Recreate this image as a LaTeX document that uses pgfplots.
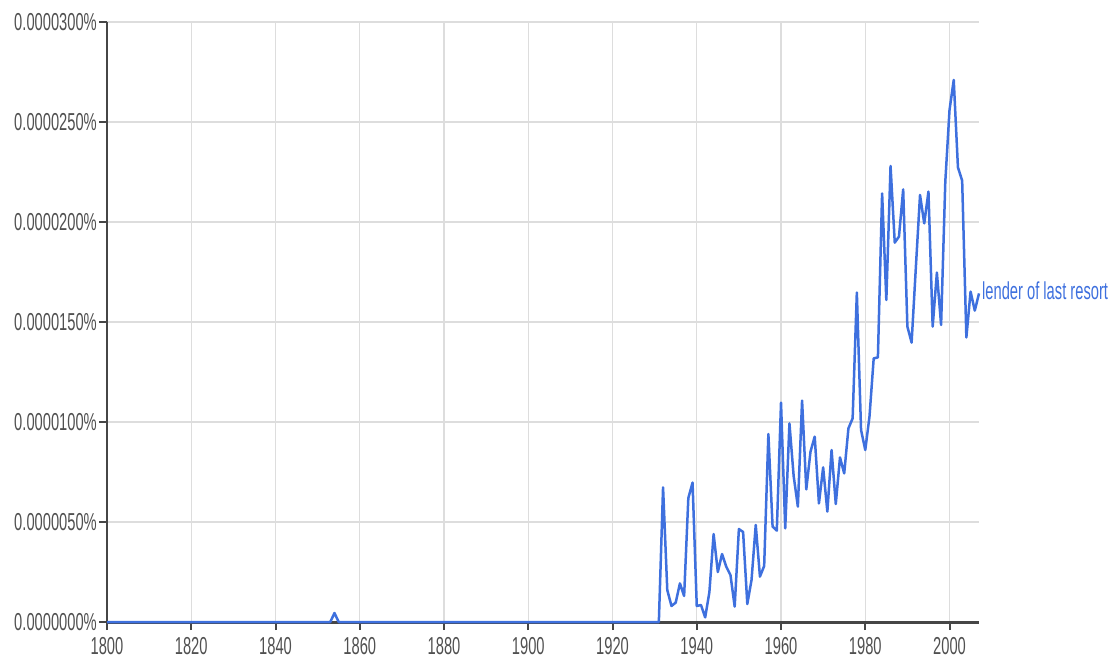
\documentclass[border=0pt]{standalone}
\usepackage{pgfplots}
\pgfplotsset{compat=1.18}
\usepackage{fontspec}
\setmainfont{Liberation Sans}[FakeStretch=0.6]
\definecolor{lineblue}{RGB}{62,112,222}
\definecolor{tickgray}{RGB}{80,80,80}
\definecolor{axisgray}{RGB}{70,70,70}
\definecolor{gridgray}{RGB}{221,221,221}
\begin{document}
\begin{tikzpicture}
\begin{axis}[
  set layers,
  scale only axis,
  width=872pt, height=600pt,
  at={(0pt,0pt)}, anchor=south west,
  xmin=1800, xmax=2007, ymin=0, ymax=30,
  axis x line*=bottom, axis y line*=left,
  x axis line style={line width=3pt, color=axisgray},
  y axis line style={line width=1.6pt, color=axisgray},
  xtick={1800,1820,1840,1860,1880,1900,1920,1940,1960,1980,2000},
  xticklabels={1800,1820,1840,1860,1880,1900,1920,1940,1960,1980,2000},
  ytick={0,5,10,15,20,25,30},
  yticklabels={0.0000000\%,0.0000050\%,0.0000100\%,0.0000150\%,0.0000200\%,0.0000250\%,0.0000300\%},
  tick align=outside,
  major tick length=8pt,
  xtick style={line width=2pt, color=axisgray},
  ytick style={line width=2pt, color=axisgray},
  minor tick num=0,
  xmajorgrids, ymajorgrids,
  x grid style={line width=1.2pt, color=gridgray},
  y grid style={line width=2pt, color=gridgray},
  tick label style={font=\fontsize{24.5}{28}\selectfont, text=tickgray},
  xticklabel style={inner sep=2pt, yshift=-5pt},
  yticklabel style={inner sep=2pt},
  clip=false,
]
\addplot[lineblue, line width=2.5pt, line join=round] coordinates {
(1800,0)(1853,0)(1854,0.45)(1855,0)(1931,0)
(1932,6.73)(1933,1.6)(1934,0.8)(1935,0.97)(1936,1.93)(1937,1.3)(1938,6.2)(1939,6.97)(1940,0.8)
(1941,0.85)(1942,0.23)(1943,1.5)(1944,4.4)(1945,2.5)(1946,3.4)(1947,2.77)(1948,2.35)(1949,0.77)(1950,4.65)
(1951,4.5)(1952,0.9)(1953,2.1)(1954,4.85)(1955,2.27)(1956,2.8)(1957,9.4)(1958,4.77)(1959,4.57)(1960,10.97)
(1961,4.68)(1962,9.93)(1963,7.3)(1964,5.77)(1965,11.07)(1966,6.63)(1967,8.52)(1968,9.27)(1969,5.93)(1970,7.73)
(1971,5.52)(1972,8.6)(1973,5.9)(1974,8.23)(1975,7.43)(1976,9.68)(1977,10.18)(1978,16.47)(1979,9.6)(1980,8.6)
(1981,10.27)(1982,13.18)(1983,13.23)(1984,21.43)(1985,16.1)(1986,22.8)(1987,18.97)(1988,19.27)(1989,21.63)(1990,14.77)
(1991,13.97)(1992,17.7)(1993,21.35)(1994,19.93)(1995,21.52)(1996,14.77)(1997,17.47)(1998,14.85)(1999,22.02)(2000,25.6)
(2001,27.1)(2002,22.73)(2003,22.07)(2004,14.23)(2005,16.52)(2006,15.57)(2007,16.43)
};
\node[anchor=west, inner sep=2pt, xshift=1pt, yshift=3pt, font=\fontsize{24.5}{28}\selectfont, text=lineblue] at (axis cs:2007,16.43) {lender of last resort};
\end{axis}
\path (-107pt,-40pt) rectangle (1011pt,622pt);
\end{tikzpicture}
\end{document}
